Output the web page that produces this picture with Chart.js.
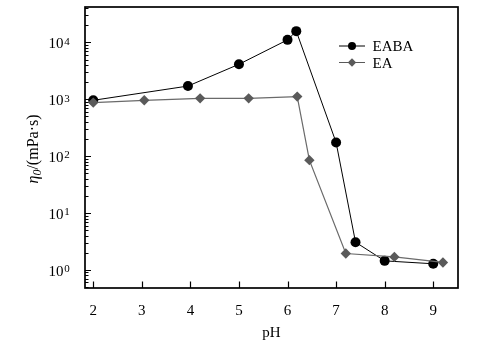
<!DOCTYPE html>
<html>
<head>
<meta charset="utf-8">
<script src="https://cdn.jsdelivr.net/npm/chart.js@4.4.1/dist/chart.umd.min.js"></script>
<style>
html,body{margin:0;padding:0;background:#fff;}
#wrap{width:485px;height:352px;}
</style>
</head>
<body>
<div id="wrap"><canvas id="c" width="485" height="352"></canvas></div>
<script>
const xTicks = [2, 3, 4, 5, 6, 7, 8, 9];
const yDecades = [1, 10, 100, 1000, 10000];
const yExponents = ['0', '1', '2', '3', '4'];
const eabaX = [2, 3.95, 5, 6, 6.18, 7, 7.4, 8, 9];
const eabaY = [960, 1710, 4130, 11100, 15800, 174, 3.07, 1.44, 1.28];
const eaX = [2, 3.05, 4.2, 5.2, 6.2, 6.45, 7.2, 8.2, 9.2];
const eaY = [875, 960, 1040, 1040, 1115, 85, 1.94, 1.69, 1.35];
const seriesNames = ['EABA', 'EA'];

const FONT = '"Liberation Serif", "Times New Roman", serif';
const GRAY = '#5a5a5a';

function allLogTicks(min, max) {
  const out = [];
  for (let e = -1; e <= 5; e++) {
    for (let m = 1; m <= 9; m++) {
      const v = m * Math.pow(10, e);
      if (v >= min && v <= max) out.push({value: v, major: m === 1});
    }
  }
  return out;
}

const decor = {
  id: 'decor',
  afterDraw(chart) {
    const ctx = chart.ctx;
    const a = chart.chartArea;
    const xs = chart.scales.x, ys = chart.scales.y;
    ctx.save();
    // frame
    ctx.strokeStyle = '#000';
    ctx.lineWidth = 1.7;
    ctx.strokeRect(a.left, a.top, a.right - a.left, a.bottom - a.top);
    // x ticks inward
    ctx.lineWidth = 1.2;
    ctx.beginPath();
    xTicks.forEach(v => {
      const px = Math.round(xs.getPixelForValue(v)) + 0.5;
      ctx.moveTo(px, a.bottom);
      ctx.lineTo(px, a.bottom - 6.5);
    });
    ctx.stroke();
    // y ticks inward
    ctx.beginPath();
    ys.ticks.forEach(t => {
      const py = Math.round(ys.getPixelForValue(t.value)) + 0.5;
      const len = t.major ? 6 : 3.5;
      ctx.moveTo(a.left, py);
      ctx.lineTo(a.left + len, py);
    });
    ctx.stroke();
    // y labels 10^n
    ctx.fillStyle = '#000';
    yDecades.forEach((v, i) => {
      const py = ys.getPixelForValue(v);
      ctx.font = '15px ' + FONT;
      ctx.textAlign = 'right';
      ctx.textBaseline = 'alphabetic';
      ctx.fillText('10', 63.5, py + 5.8);
      ctx.font = '11px ' + FONT;
      ctx.textAlign = 'left';
      ctx.fillText(yExponents[i], 64.3, py + 2.3);
    });
    // y axis title
    ctx.save();
    ctx.translate(33, 149);
    ctx.rotate(-Math.PI / 2);
    ctx.textBaseline = 'alphabetic';
    const parts = [
      {t: '\u03B7', f: 'italic 16px ' + FONT, dy: 0},
      {t: '0', f: 'italic 12px ' + FONT, dy: 2.5},
      {t: '/(mPa\u00B7s)', f: '16px ' + FONT, dy: 0}
    ];
    let total = 0;
    parts.forEach(p => { ctx.font = p.f; p.w = ctx.measureText(p.t).width; total += p.w; });
    let x0 = -total / 2;
    ctx.textAlign = 'left';
    parts.forEach(p => { ctx.font = p.f; ctx.fillText(p.t, x0, 5 + p.dy); x0 += p.w; });
    ctx.restore();
    // legend
    const items = [
      {name: seriesNames[0], y: 46, color: '#000', style: 'circle'},
      {name: seriesNames[1], y: 62.5, color: GRAY, style: 'diamond'}
    ];
    items.forEach(it => {
      ctx.strokeStyle = it.color;
      ctx.lineWidth = 1;
      ctx.beginPath();
      ctx.moveTo(339, it.y);
      ctx.lineTo(365, it.y);
      ctx.stroke();
      ctx.fillStyle = it.color;
      ctx.beginPath();
      if (it.style === 'circle') {
        ctx.arc(352, it.y, 4, 0, Math.PI * 2);
      } else {
        ctx.moveTo(352, it.y - 4.2);
        ctx.lineTo(356.2, it.y);
        ctx.lineTo(352, it.y + 4.2);
        ctx.lineTo(347.8, it.y);
        ctx.closePath();
      }
      ctx.fill();
      ctx.fillStyle = '#000';
      ctx.font = '15px ' + FONT;
      ctx.textAlign = 'left';
      ctx.textBaseline = 'alphabetic';
      ctx.fillText(it.name, 372.5, it.y + 5);
    });
    ctx.restore();
  }
};

new Chart(document.getElementById('c'), {
  type: 'line',
  data: {
    datasets: [
      {
        label: seriesNames[1],
        data: eaX.map((x, i) => ({x: x, y: eaY[i]})),
        borderColor: '#6a6a6a',
        backgroundColor: GRAY,
        borderWidth: 1.2,
        pointStyle: 'rectRot',
        pointRadius: 5.2,
        pointBorderWidth: 0,
        pointBackgroundColor: GRAY,
        tension: 0
      },
      {
        label: seriesNames[0],
        data: eabaX.map((x, i) => ({x: x, y: eabaY[i]})),
        borderColor: '#000',
        backgroundColor: '#000',
        borderWidth: 1,
        pointStyle: 'circle',
        pointRadius: 5,
        pointBorderWidth: 0,
        pointBackgroundColor: '#000',
        tension: 0
      }
    ]
  },
  options: {
    responsive: false,
    animation: false,
    events: [],
    layout: {padding: {top: 7, right: 27, left: 0, bottom: 0}},
    plugins: {legend: {display: false}, tooltip: {enabled: false}},
    scales: {
      x: {
        type: 'linear',
        min: 1.83,
        max: 9.51,
        grid: {display: false},
        border: {display: false},
        afterBuildTicks(s) { s.ticks = xTicks.map(v => ({value: v})); },
        afterFit(s) { s.height = 64; },
        ticks: {
          font: {family: FONT, size: 15},
          color: '#000',
          padding: 6,
          maxRotation: 0,
          autoSkip: false
        },
        title: {
          display: true,
          text: 'pH',
          font: {family: FONT, size: 15},
          color: '#000',
          padding: {top: 0, bottom: 10}
        }
      },
      y: {
        type: 'logarithmic',
        min: 0.48,
        max: 42000,
        grid: {display: false},
        border: {display: false},
        afterBuildTicks(s) { s.ticks = allLogTicks(s.min, s.max); },
        afterFit(s) { s.width = 85; },
        ticks: {display: false}
      }
    }
  },
  plugins: [decor]
});
</script>
</body>
</html>
